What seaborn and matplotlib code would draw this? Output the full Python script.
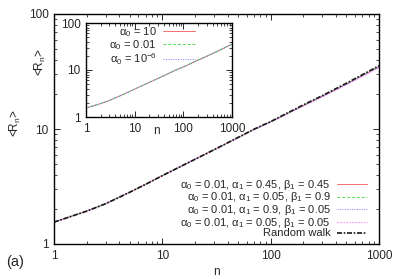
import numpy as np
import pandas as pd
import seaborn as sns
import matplotlib.pyplot as plt
from matplotlib.ticker import LogLocator, NullFormatter

# data
n = [1, 2, 3, 5, 7, 10, 20, 30, 50, 70, 100, 200, 300, 500, 700, 1000]
r_walk = [1.55, 1.93, 2.24, 2.82, 3.3, 3.93, 5.45, 6.6, 8.45, 9.95, 11.6, 16.2, 19.5, 25.0, 29.6, 35.5]
r_a45_b45 = [1.55, 1.93, 2.24, 2.82, 3.3, 3.93, 5.45, 6.6, 8.4, 9.9, 11.55, 16.0, 19.3, 24.6, 29.1, 34.8]
r_a05_b90 = [1.55, 1.93, 2.24, 2.82, 3.3, 3.93, 5.45, 6.6, 8.4, 9.9, 11.55, 16.05, 19.35, 24.7, 29.2, 34.9]
r_a90_b05 = [1.55, 1.93, 2.24, 2.82, 3.3, 3.93, 5.45, 6.6, 8.4, 9.85, 11.5, 15.9, 19.1, 24.4, 28.8, 34.4]
r_a05_b05 = [1.55, 1.93, 2.24, 2.82, 3.3, 3.93, 5.44, 6.58, 8.38, 9.8, 11.45, 15.8, 19.0, 24.2, 28.6, 34.0]

r_inset_10 = [1.55, 1.93, 2.24, 2.82, 3.3, 3.93, 5.45, 6.6, 8.45, 9.95, 11.6, 16.2, 19.5, 25.0, 29.6, 35.5]
r_inset_001 = [1.55, 1.93, 2.24, 2.82, 3.3, 3.93, 5.45, 6.6, 8.45, 9.95, 11.6, 16.2, 19.5, 25.0, 29.6, 35.5]
r_inset_1e6 = [1.55, 1.93, 2.24, 2.82, 3.3, 3.93, 5.45, 6.6, 8.45, 9.95, 11.6, 16.2, 19.5, 25.0, 29.6, 35.5]

main_labels = [r"α$_0$ = 0.01, α$_1$ = 0.45, β$_1$ = 0.45",
               r"α$_0$ = 0.01, α$_1$ = 0.05, β$_1$ = 0.9",
               r"α$_0$ = 0.01, α$_1$ = 0.9, β$_1$ = 0.05",
               r"α$_0$ = 0.01, α$_1$ = 0.05, β$_1$ = 0.05",
               "Random walk"]
inset_labels = [r"α$_0$ = 10", r"α$_0$ = 0.01", r"α$_0$ = 10$^{-6}$"]

sns.set_style("ticks")
plt.rcParams["font.family"] = ["Liberation Sans", "DejaVu Sans"]
plt.rcParams["mathtext.fontset"] = "custom"
plt.rcParams["mathtext.rm"] = "Liberation Sans"
plt.rcParams["mathtext.it"] = "Liberation Sans"
plt.rcParams["font.size"] = 8.5

colors = ["#f07070", "#50dd50", "#7777ff", "#ff77ff", "#181818"]
styles = [(None, None), (3, 2), (1, 1.5), (1.5, 1.5), (3, 1, 1, 1)]


def style_ax(ax):
    ax.set_xscale("log")
    ax.set_yscale("log")
    ax.set_xlim(1, 1000)
    ax.set_ylim(1, 100)
    ax.xaxis.set_minor_locator(LogLocator(10, subs=np.arange(2, 10), numticks=20))
    ax.yaxis.set_minor_locator(LogLocator(10, subs=np.arange(2, 10), numticks=20))
    ax.xaxis.set_minor_formatter(NullFormatter())
    ax.yaxis.set_minor_formatter(NullFormatter())
    ax.set_xticks([1, 10, 100, 1000], ["1", "10", "100", "1000"])
    ax.set_yticks([1, 10, 100], ["1", "10", "100"])
    ax.tick_params(which="both", direction="in", top=True, right=True, labelsize=8.5, pad=4)
    ax.tick_params(which="major", length=4, width=0.7)
    ax.tick_params(which="minor", length=2.2, width=0.6)
    for s in ax.spines.values():
        s.set_linewidth(1.0)
        s.set_color("black")


fig = plt.figure(figsize=(3.99, 2.79), dpi=100)
ax = fig.add_axes([54 / 399, 1 - 244 / 279, 325 / 399, 230 / 279])

main_series = [r_a45_b45, r_a05_b90, r_a90_b05, r_a05_b05, r_walk]
for vals, lab, c, d in zip(main_series, main_labels, colors, styles):
    lw = 1.2 if lab == "Random walk" else 0.7
    sns.lineplot(x=n, y=vals, ax=ax, color=c, lw=lw, label=lab)
    if d != (None, None):
        ax.lines[-1].set_dashes(d)

style_ax(ax)
ax.set_xlabel("n", fontsize=8.5)
ax.set_ylabel(r"<R$_n$>", fontsize=8.5)
ax.xaxis.set_label_coords(0.5, -0.095)
ax.yaxis.set_label_coords(-0.096, 0.526)
ax.legend(loc="lower right", frameon=False, markerfirst=False, fontsize=8,
          handlelength=2.7, handletextpad=0.6, labelspacing=-0.12,
          borderaxespad=0.2, bbox_to_anchor=(0.985, -0.005))

# inset
axi = fig.add_axes([86 / 399, 1 - 117 / 279, 146 / 399, 94 / 279])
inset_series = [r_inset_10, r_inset_001, r_inset_1e6]
for vals, lab, c, d in zip(inset_series, inset_labels, colors[:3], styles[:3]):
    sns.lineplot(x=n, y=vals, ax=axi, color=c, lw=0.7, label=lab)
    if d != (None, None):
        axi.lines[-1].set_dashes(d)
style_ax(axi)
axi.set_xlabel("n", fontsize=8.5)
axi.set_ylabel(r"<R$_n$>", fontsize=8.5)
axi.xaxis.set_label_coords(0.486, -0.09)
axi.yaxis.set_label_coords(-0.26, 0.585)
axi.legend(loc="upper left", frameon=False, markerfirst=False, fontsize=8,
           handlelength=2.9, handletextpad=0.6, labelspacing=-0.08,
           borderaxespad=0.0, bbox_to_anchor=(0.13, 1.025))

fig.text(15 / 399, 1 - 262 / 279, "(a)", fontsize=10.5, ha="center", va="center")

fig.savefig("out.png", dpi=100)
